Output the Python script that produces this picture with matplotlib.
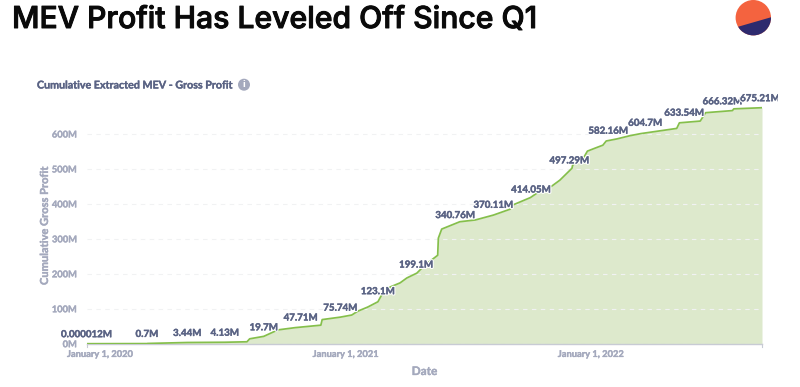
import matplotlib
matplotlib.use("Agg")
import matplotlib.pyplot as plt
import matplotlib.patheffects as pe
from matplotlib.patches import Circle, Polygon
from matplotlib.transforms import Bbox
import pandas as pd

ORIGIN = "2020-01-01"
curve_days = [-20, 70, 71, 130, 186, 219, 223, 244, 261, 267, 291, 329, 331, 358, 375, 384, 399, 414,
              420, 432, 447, 457, 472, 484, 503, 504, 509, 536, 559, 586, 611, 615, 641, 651, 673,
              685, 703, 704, 720, 726, 738, 749, 754, 770, 789, 805, 859, 863, 894, 902, 942, 944, 986]
curve_vals = [0.000012, 0.3, 0.7, 3.44, 4.13, 5.5, 14, 21, 36, 40, 46, 53, 69, 76, 82, 93, 105, 120,
              141, 162, 174, 188, 202, 225, 253, 302, 328, 349, 354, 368, 385, 397, 418, 431, 451,
              468, 502, 511, 531, 551, 560, 568, 580, 586, 595, 601, 616, 632, 637, 661, 667, 672, 675.21]
label_days = [-20, 70, 130, 186, 244, 299, 358, 414, 471, 529, 586, 642, 699, 757, 812, 870, 927, 983]
label_vals = [0.000012, 0.7, 3.44, 4.13, 19.7, 47.71, 75.74, 123.1, 199.1, 340.76, 370.11, 414.05,
              497.29, 582.16, 604.7, 633.54, 666.32, 675.21]
label_text = ["0.000012M", "0.7M", "3.44M", "4.13M", "19.7M", "47.71M", "75.74M", "123.1M", "199.1M",
              "340.76M", "370.11M", "414.05M", "497.29M", "582.16M", "604.7M", "633.54M", "666.32M", "675.21M"]
y_ticks = [0, 100, 200, 300, 400, 500, 600]
y_labels = ["0M", "100M", "200M", "300M", "400M", "500M", "600M"]
x_ticks = ["2020-01-01", "2021-01-01", "2022-01-01"]
x_labels = ["January 1, 2020", "January 1, 2021", "January 1, 2022"]

def to_dates(days):
    return pd.Timestamp(ORIGIN) + pd.to_timedelta(days, unit="D")

W, H = 800, 387
fig = plt.figure(figsize=(8, 3.87), dpi=100)
plt.rcParams['font.family'] = ['Lato', 'DejaVu Sans']
L, R, B, T = 86.5, 762, 343.7, 100
ax = fig.add_axes([L / W, (H - B) / H, (R - L) / W, (B - T) / H])
GREEN, FILL = "#85bf4b", "#dde9cc"
TXT, TICK = "#5a6384", "#a4a9bd"

def heavy(color, width=0.25):
    return [pe.Stroke(linewidth=width, foreground=color), pe.Normal()]

x = to_dates(curve_days)
ax.fill_between(x, curve_vals, 0, color=FILL, lw=0, zorder=1)
ax.plot(x, curve_vals, color=GREEN, lw=1.25, zorder=3, solid_joinstyle="round")
ax.set_xlim(x[0], x[-1])
ax.set_ylim(0, 697.3)
ax.set_yticks(y_ticks, y_labels)
ax.yaxis.grid(True, color="#f1f2f3", lw=0.8, ls=(0, (4, 4)), zorder=2)
ax.set_axisbelow(False)
ax.tick_params(axis="y", length=0, pad=7, labelsize=6.7, labelcolor=TICK)
ax.set_xticks(pd.to_datetime(x_ticks), x_labels)
ax.tick_params(axis="x", length=0, pad=4.5, labelsize=6.7, labelcolor=TICK)
for t in ax.get_yticklabels() + ax.get_xticklabels():
    t.set_fontweight("bold")
    t.set_path_effects(heavy(TICK))
for s in ["top", "right", "left"]:
    ax.spines[s].set_visible(False)
ax.spines["bottom"].set_color("#c8cbd4")
ax.spines["bottom"].set_linewidth(1)
ax.patch.set_alpha(0)

clip = Bbox([[0, 0], [778, H]])
for d, v, s in zip(label_days, label_vals, label_text):
    t = ax.annotate(s, (to_dates(d), v), xytext=(0, 6.5), textcoords="offset points", ha="center", va="center",
                    fontsize=7, fontweight="bold", color=TXT, zorder=5, annotation_clip=False,
                    path_effects=[pe.Stroke(linewidth=2, foreground="white"),
                                  pe.Stroke(linewidth=0.3, foreground=TXT), pe.Normal()])
    t.set_clip_box(clip)
    t.set_clip_on(True)

ov = fig.add_axes([0, 0, 1, 1], zorder=10)
ov.set_xlim(0, W)
ov.set_ylim(H, 0)
ov.axis("off")
ov.patch.set_alpha(0)
for px in (L, R):
    ov.plot([px, px], [B, B + 3], color="#c8cbd4", lw=0.8)
ov.text(12, 28, "MEV Profit Has Leveled Off Since Q1", fontsize=21.7, fontweight="medium",
        family=["Inter", "DejaVu Sans"], color="#0a0a0a", va="baseline", ha="left",
        path_effects=heavy("#0a0a0a", 0.7))
ov.text(37, 85, "Cumulative Extracted MEV - Gross Profit", fontsize=7.7, fontweight="bold", color=TXT,
        va="center", ha="left", path_effects=heavy(TXT))
ov.add_patch(Circle((244, 84.7), 6, color="#a4a9bd", lw=0))
ov.text(244, 84.7, "i", fontsize=7.5, fontweight="black", color="white", ha="center", va="center")
ov.text(44.5, 225.5, "Cumulative Gross Profit", fontsize=8, fontweight="bold", color=TICK, rotation=90,
        ha="center", va="center", path_effects=heavy(TICK))
ov.text(424.5, 371.5, "Date", fontsize=8.5, fontweight="bold", color=TICK, ha="center", va="center",
        path_effects=heavy(TICK))

disc = Circle((753.3, 17.7), 17.7, color="#f4633f", lw=0)
ov.add_patch(disc)
navy = Polygon([(730, 29.1), (775, 16.1), (775, 40), (730, 40)], closed=True, color="#2e2a6e", lw=0)
ov.add_patch(navy)
navy.set_clip_path(disc)

fig.savefig("out.png", dpi=100)
